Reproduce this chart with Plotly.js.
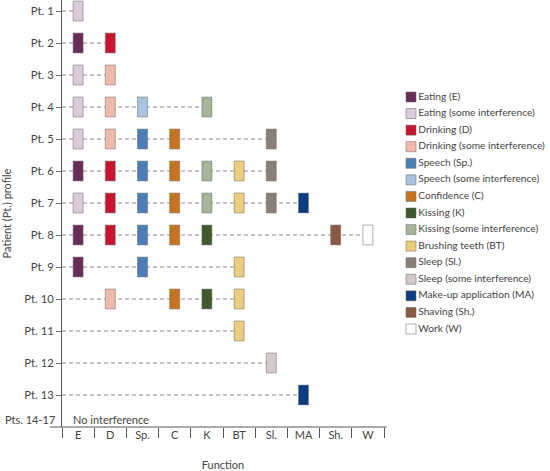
<!DOCTYPE html>
<html>
<head>
<meta charset="utf-8">
<script src="https://cdn.plot.ly/plotly-3.0.1.min.js"></script>
<style>html,body{margin:0;padding:0;background:#fff;}#chart{width:550px;height:471px;}</style>
</head>
<body>
<div id="chart"></div>
<script>
// ---- Data ----
const functionCodes = ['E', 'D', 'Sp.', 'C', 'K', 'BT', 'Sl.', 'MA', 'Sh.', 'W'];
const patientLabels = ['Pt. 1','Pt. 2','Pt. 3','Pt. 4','Pt. 5','Pt. 6','Pt. 7','Pt. 8','Pt. 9','Pt. 10','Pt. 11','Pt. 12','Pt. 13'];
const seriesNames = [
  'Eating (E)', 'Eating (some interference)', 'Drinking (D)', 'Drinking (some interference)',
  'Speech (Sp.)', 'Speech (some interference)', 'Confidence (C)', 'Kissing (K)',
  'Kissing (some interference)', 'Brushing teeth (BT)', 'Sleep (Sl.)', 'Sleep (some interference)',
  'Make-up application (MA)', 'Shaving (Sh.)', 'Work (W)'
];
const seriesFunction = ['E','E','D','D','Sp.','Sp.','C','K','K','BT','Sl.','Sl.','MA','Sh.','W'];
const seriesColors = ['#6b2b58','#dccadd','#c8142f','#f2b9aa','#4a80b7','#a9c3e3','#c8741f','#3f5a2b',
  '#a6b596','#eccd79','#8b7d77','#d5cac9','#0b3d82','#8a5944','#ffffff'];
// patients (Pt. number) affected for each series
const eatingE      = [2, 6, 8, 9];
const eatingSome   = [1, 3, 4, 5, 7];
const drinkingD    = [2, 6, 7, 8];
const drinkingSome = [3, 4, 5, 10];
const speechSp     = [5, 6, 7, 8, 9];
const speechSome   = [4];
const confidenceC  = [5, 6, 7, 8, 10];
const kissingK     = [8, 10];
const kissingSome  = [4, 6, 7];
const brushingBT   = [6, 7, 9, 10, 11];
const sleepSl      = [5, 6, 7];
const sleepSome    = [12];
const makeupMA     = [7, 13];
const shavingSh    = [8];
const workW        = [8];
const seriesPatients = [eatingE, eatingSome, drinkingD, drinkingSome, speechSp, speechSome, confidenceC,
  kissingK, kissingSome, brushingBT, sleepSl, sleepSome, makeupMA, shavingSh, workW];

// ---- Build ----
const FONT = 'Lato, "Noto Sans", sans-serif';
const TXT = '#444';
const boxW = 0.31, boxH = 0.62;
const traces = [];
seriesNames.forEach((name, i) => {
  const fi = functionCodes.indexOf(seriesFunction[i]);
  const pts = seriesPatients[i];
  traces.push({
    type: 'bar', name: name, showlegend: false,
    x: pts.map(() => fi), base: pts.map(p => p - boxH / 2), y: pts.map(() => boxH),
    width: boxW,
    marker: {color: seriesColors[i], line: {color: 'rgba(110,110,110,0.55)', width: 1}},
    xaxis: 'x', yaxis: 'y', hoverinfo: 'name'
  });
});
// custom legend (markers + text) on its own hidden axes
traces.push({
  type: 'scatter', mode: 'markers+text', showlegend: false, cliponaxis: false,
  x: seriesNames.map(() => 11), y: seriesNames.map((n, i) => 97 + i * 16.57),
  text: seriesNames, textposition: 'middle right',
  textfont: {family: FONT, size: 10.2, color: TXT},
  marker: {symbol: 'square', size: 10, color: seriesColors, line: {color: 'rgba(110,110,110,0.55)', width: 1}},
  xaxis: 'x3', yaxis: 'y3', hoverinfo: 'skip'
});
// dummy trace to activate the boundary-tick axis
traces.push({type: 'scatter', x: [0], y: [1], mode: 'markers', marker: {opacity: 0}, xaxis: 'x2', yaxis: 'y', showlegend: false, hoverinfo: 'skip'});

// dashed guide lines: from y-axis to last affected function per patient
const shapes = [];
patientLabels.forEach((lab, pi) => {
  const p = pi + 1;
  let maxIdx = -1;
  seriesPatients.forEach((arr, si) => { if (arr.includes(p)) maxIdx = Math.max(maxIdx, functionCodes.indexOf(seriesFunction[si])); });
  if (maxIdx >= 0) shapes.push({type: 'line', xref: 'x', yref: 'y', x0: -0.5, x1: maxIdx, y0: p, y1: p,
    layer: 'below', line: {color: '#8a8a8a', width: 1, dash: '4px,3px'}});
});
const W = 488, mainFrac = 322 / W;
shapes.push({type: 'line', xref: 'paper', yref: 'paper', x0: -12 / W, x1: mainFrac + 3 / W, y0: 0, y1: 0, line: {color: '#555', width: 1}});

const layout = {
  width: 550, height: 471,
  margin: {l: 62, r: 0, t: 0, b: 44},
  paper_bgcolor: '#fff', plot_bgcolor: 'rgba(0,0,0,0)',
  barmode: 'overlay', showlegend: false,
  font: {family: FONT, size: 11, color: TXT},
  xaxis: {domain: [0, mainFrac], range: [-0.5, functionCodes.length - 0.5], tickvals: functionCodes.map((c, i) => i),
    ticktext: functionCodes, ticks: '', showline: false, showgrid: false, zeroline: false,
    tickfont: {family: FONT, size: 11, color: TXT},
    title: {text: 'Function', font: {family: FONT, size: 11, color: TXT}, standoff: 27}},
  xaxis2: {domain: [0, mainFrac], overlaying: 'x', anchor: 'y', side: 'bottom', range: [-0.5, functionCodes.length - 0.5],
    tickvals: functionCodes.map((c, i) => i - 0.5).concat([functionCodes.length - 0.5]), ticks: 'outside', ticklen: 10,
    tickcolor: '#555', showticklabels: false, showgrid: false, zeroline: false, showline: false},
  yaxis: {range: [14, 0.656], tickvals: patientLabels.map((l, i) => i + 1), ticktext: patientLabels,
    ticks: 'outside', ticklen: 5, tickcolor: '#777', showline: true, linecolor: '#555', linewidth: 1,
    showgrid: false, zeroline: false, tickfont: {family: FONT, size: 11.3, color: TXT},
    title: {text: 'Patient (Pt.) profile', font: {family: FONT, size: 11, color: TXT}, standoff: 12}},
  xaxis3: {domain: [(400 - 62) / W, 1], range: [0, 150], visible: false, fixedrange: true},
  yaxis3: {domain: [0, 1], anchor: 'x3', range: [427, 0], visible: false, fixedrange: true},
  shapes: shapes,
  annotations: [
    {xref: 'paper', yref: 'y', x: -5 / W, y: 13.78, xanchor: 'right', yanchor: 'middle', showarrow: false,
      text: 'Pts. 14-17', font: {family: FONT, size: 11, color: TXT}},
    {xref: 'paper', yref: 'y', x: 9 / W, y: 13.78, xanchor: 'left', yanchor: 'middle', showarrow: false,
      text: 'No interference', font: {family: FONT, size: 11, color: TXT}}
  ]
};
Plotly.newPlot('chart', traces, layout, {staticPlot: true, displayModeBar: false});
</script>
</body>
</html>
